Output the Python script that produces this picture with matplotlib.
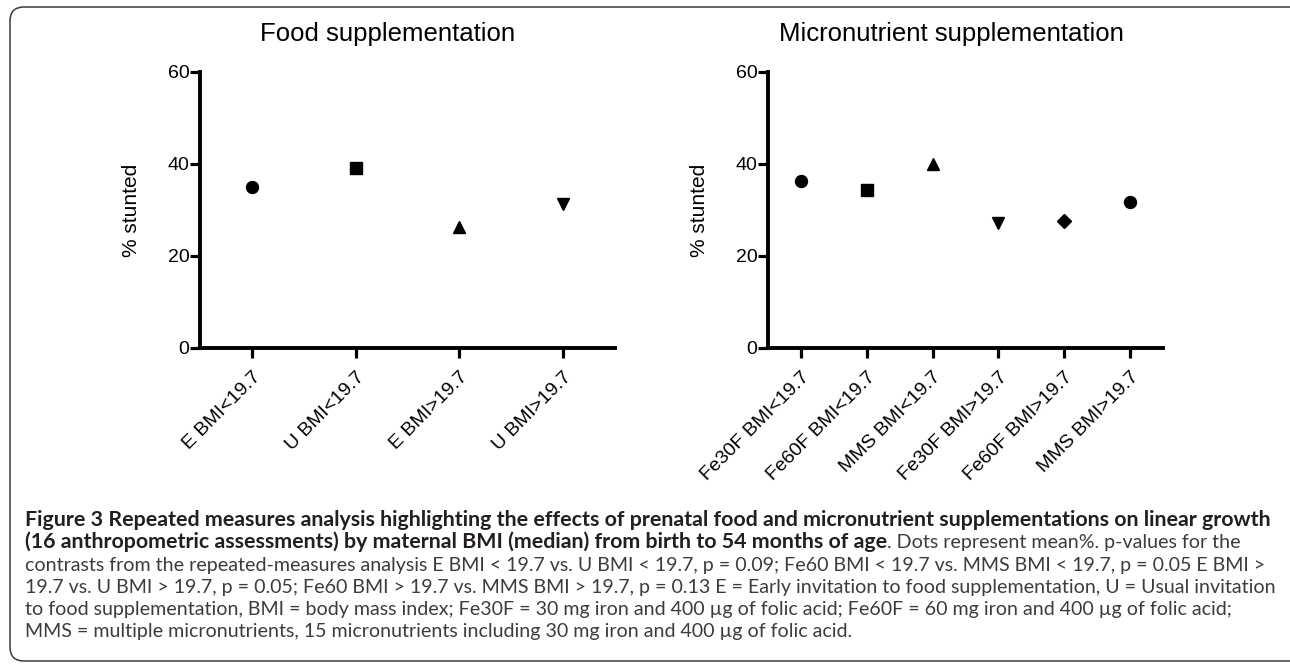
import matplotlib
matplotlib.use("Agg")
import matplotlib.pyplot as plt
from matplotlib import font_manager
from matplotlib.patches import FancyBboxPatch
from matplotlib.transforms import ScaledTranslation

plt.rcParams['font.family'] = ['Liberation Sans', 'DejaVu Sans']

# data (% stunted, mean)
food_labels = ["E BMI<19.7", "U BMI<19.7", "E BMI>19.7", "U BMI>19.7"]
food_values = [35.1, 39.2, 26.4, 31.3]
food_markers = ["o", "s", "^", "v"]

micro_labels = ["Fe30F BMI<19.7", "Fe60F BMI<19.7", "MMS BMI<19.7",
                "Fe30F BMI>19.7", "Fe60F BMI>19.7", "MMS BMI>19.7"]
micro_values = [36.2, 34.3, 40.1, 27.1, 27.6, 31.8]
micro_markers = ["o", "s", "^", "v", "D", "o"]

marker_size = {"o": 8.6, "s": 8.0, "^": 9.0, "v": 8.2, "D": 7.4}

caption_bold = ("Figure 3 Repeated measures analysis highlighting the effects of prenatal "
                "food and micronutrient supplementations on linear growth")
caption_line2_bold = ("(16 anthropometric assessments) by maternal BMI (median) "
                      "from birth to 54 months of age")
caption_line2_rest = ". Dots represent mean%. p-values for the"
caption_rest = [
    "contrasts from the repeated-measures analysis E BMI < 19.7 vs. U BMI < 19.7, p = 0.09; "
    "Fe60 BMI < 19.7 vs. MMS BMI < 19.7, p = 0.05 E BMI >",
    "19.7 vs. U BMI > 19.7, p = 0.05; Fe60 BMI > 19.7 vs. MMS BMI > 19.7, p = 0.13 "
    "E = Early invitation to food supplementation, U = Usual invitation",
    "to food supplementation, BMI = body mass index; Fe30F = 30 mg iron and 400 \u00b5g of "
    "folic acid; Fe60F = 60 mg iron and 400 \u00b5g of folic acid;",
    "MMS = multiple micronutrients, 15 micronutrients including 30 mg iron and 400 \u00b5g of folic acid.",
]

W, H = 1290, 664
fig = plt.figure(figsize=(W / 100, H / 100), dpi=100)

# background layer in pixel coordinates: frame + caption
bg = fig.add_axes([0, 0, 1, 1], zorder=0)
bg.set_xlim(0, W)
bg.set_ylim(H, 0)
bg.axis("off")
bg.add_patch(FancyBboxPatch((10, 7), 1320, 654,
                            boxstyle="round,pad=0,rounding_size=14",
                            fc="none", ec="#3a3a3a", lw=1.1))


def draw_panel(rect, labels, values, markers, title, title_x, label_dx):
    ax = fig.add_axes(rect, zorder=2)
    for i, (v, m) in enumerate(zip(values, markers)):
        ax.plot(i, v, marker=m, ms=marker_size[m], color="black", ls="none", clip_on=False)
    ax.set_xlim(-0.5, len(labels) - 0.5)
    ax.set_ylim(0, 60)
    ax.set_yticks([0, 20, 40, 60])
    ax.set_xticks(range(len(labels)))
    ax.set_xticklabels(labels, rotation=45, ha="right", va="top", rotation_mode="anchor")
    for lab in ax.get_xticklabels():
        lab.set_transform(lab.get_transform() + ScaledTranslation(0.03, 0, fig.dpi_scale_trans))
    for s in ["top", "right"]:
        ax.spines[s].set_visible(False)
    for s in ["left", "bottom"]:
        ax.spines[s].set_linewidth(2.8)
    ax.tick_params(axis="both", direction="out", length=7, width=2.3, labelsize=14)
    ax.tick_params(axis="y", pad=0.5)
    ax.tick_params(axis="x", pad=8)
    ax.set_ylabel("% stunted", fontsize=15)
    ax.yaxis.set_label_coords(label_dx, 0.5)
    fig.text(title_x / W, 1 - 41 / H, title, fontsize=18.5, ha="center", va="baseline")
    return ax


bottom = 1 - 348 / H
height = 276 / H
draw_panel([200 / W, bottom, 415 / W, height], food_labels, food_values, food_markers,
           "Food supplementation", 388, -59 / 415)
draw_panel([768 / W, bottom, 395 / W, height], micro_labels, micro_values, micro_markers,
           "Micronutrient supplementation", 951, -59 / 395)

# caption
names = {f.name for f in font_manager.fontManager.ttflist}
cap_font = next(f for f in ["Lato", "Open Sans", "Noto Sans", "DejaVu Sans"] if f in names)
renderer = fig.canvas.get_renderer()


def fit_size(text, weight, target):
    t = bg.text(0, 0, text, fontsize=10, family=cap_font, weight=weight)
    w = t.get_window_extent(renderer).width
    t.remove()
    return 10 * target / w


bold_size = fit_size(caption_bold, "bold", 1251)
reg_size = fit_size(caption_rest[1], "normal", 1247)
bold_col = "#231f20"
reg_col = "#3c3c3c"

x0 = 25
bg.text(x0, 526, caption_bold, fontsize=bold_size, family=cap_font, weight="bold",
        color=bold_col, va="baseline")
t2 = bg.text(x0, 548, caption_line2_bold, fontsize=bold_size, family=cap_font, weight="bold",
             color=bold_col, va="baseline")
w2 = t2.get_window_extent(renderer).width
bg.text(x0 + w2, 548, caption_line2_rest, fontsize=reg_size, family=cap_font,
        color=reg_col, va="baseline")
for k, line in enumerate(caption_rest):
    bg.text(x0, 571 + 22 * k, line, fontsize=reg_size, family=cap_font,
            color=reg_col, va="baseline")

fig.savefig("out.png", dpi=100)
